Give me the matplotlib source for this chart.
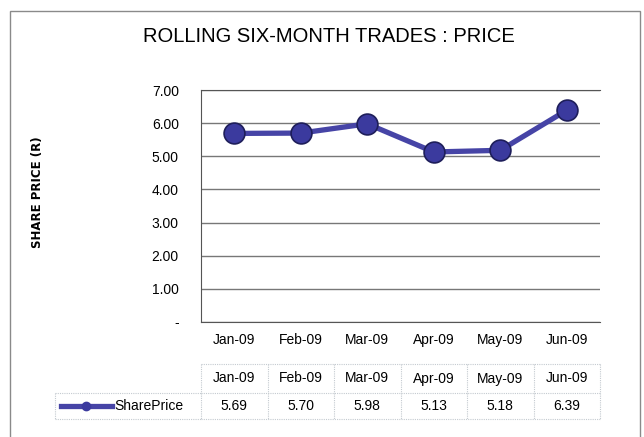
import matplotlib.pyplot as plt
from matplotlib.patches import Rectangle
from matplotlib.lines import Line2D
from matplotlib.transforms import blended_transform_factory

months = ['Jan-09', 'Feb-09', 'Mar-09', 'Apr-09', 'May-09', 'Jun-09']
share_price = [5.69, 5.70, 5.98, 5.13, 5.18, 6.39]
y_ticks = [0, 1, 2, 3, 4, 5, 6, 7]
y_tick_labels = ['-', '1.00', '2.00', '3.00', '4.00', '5.00', '6.00', '7.00']
series_name = 'SharePrice'

plt.rcParams['font.family'] = ['Liberation Sans', 'DejaVu Sans']
line_col = '#4644a6'
mark_col = '#3b3a9e'

W, H = 644, 437
fig = plt.figure(figsize=(W / 100, H / 100), dpi=100)
ax = fig.add_axes([201 / W, 1 - 322 / H, 399 / W, 232 / H])

x = list(range(len(months)))
ax.plot(x, share_price, color=line_col, lw=3.8, marker='o', ms=15,
        mfc=mark_col, mec='#1e1e5a', mew=1.2, zorder=3)

ax.set_xlim(-0.5, len(months) - 0.5)
ax.set_ylim(0, 7)
ax.set_yticks(y_ticks)
ax.set_yticklabels(y_tick_labels, fontsize=10)
ax.set_xticks(x)
ax.set_xticklabels(months, fontsize=10)
ax.tick_params(length=0, pad=8)
ax.tick_params(axis='y', pad=16)
ax.grid(axis='y', color='#777777', lw=1)
ax.set_axisbelow(True)
for s in ['left', 'bottom', 'top']:
    ax.spines[s].set_color('#555555')
ax.spines['right'].set_visible(False)

# title and y label
fig.text(329 / W, 1 - 37 / H, 'ROLLING SIX-MONTH TRADES : PRICE',
         ha='center', va='center', fontsize=14.5, fontweight='medium')
fig.text(37 / W, 1 - 192 / H, 'SHARE PRICE (R)', rotation=90,
         ha='center', va='center', fontsize=8.5, fontweight='bold',
         family='DejaVu Sans')

# data table below the axes
tr = blended_transform_factory(ax.transData, fig.transFigure)
fy = lambda py: 1 - py / H
grid_kw = dict(color='#c4cad0', lw=0.8, ls=(0, (1, 1)), clip_on=False)
top, mid, bot = fy(364), fy(393), fy(419)
# horizontal lines
ax.add_line(Line2D([-0.5, 5.5], [top, top], transform=tr, **grid_kw))
ax.add_line(Line2D([-0.5, 5.5], [mid, mid], transform=tr, **grid_kw))
ax.add_line(Line2D([-0.5, 5.5], [bot, bot], transform=tr, **grid_kw))
fig.add_artist(Line2D([55 / W, 201 / W], [mid, mid], **grid_kw))
fig.add_artist(Line2D([55 / W, 201 / W], [bot, bot], **grid_kw))
fig.add_artist(Line2D([55 / W, 55 / W], [mid, bot], **grid_kw))
for i in range(len(months) + 1):
    ax.add_line(Line2D([i - 0.5, i - 0.5], [top, bot], transform=tr, **grid_kw))
for i, m in enumerate(months):
    ax.text(i, (top + mid) / 2, m, transform=tr, ha='center', va='center', fontsize=10)
    ax.text(i, (mid + bot) / 2, f'{share_price[i]:.2f}', transform=tr,
            ha='center', va='center', fontsize=10)

# legend key in the table
ly = (mid + bot) / 2
fig.add_artist(Line2D([61 / W, 112 / W], [ly, ly], color=line_col, lw=3.8))
fig.add_artist(Line2D([86 / W], [ly], marker='o', ms=6, color=mark_col, mec=mark_col))
fig.text(114 / W, ly, series_name, ha='left', va='center', fontsize=10)

# outer chart border
fig.add_artist(Rectangle((10 / W, -0.05), 630 / W, 1.05 - 11 / H, transform=fig.transFigure,
                         fill=False, ec='#8a8a8a', lw=1))

fig.savefig('out.png', dpi=100)
